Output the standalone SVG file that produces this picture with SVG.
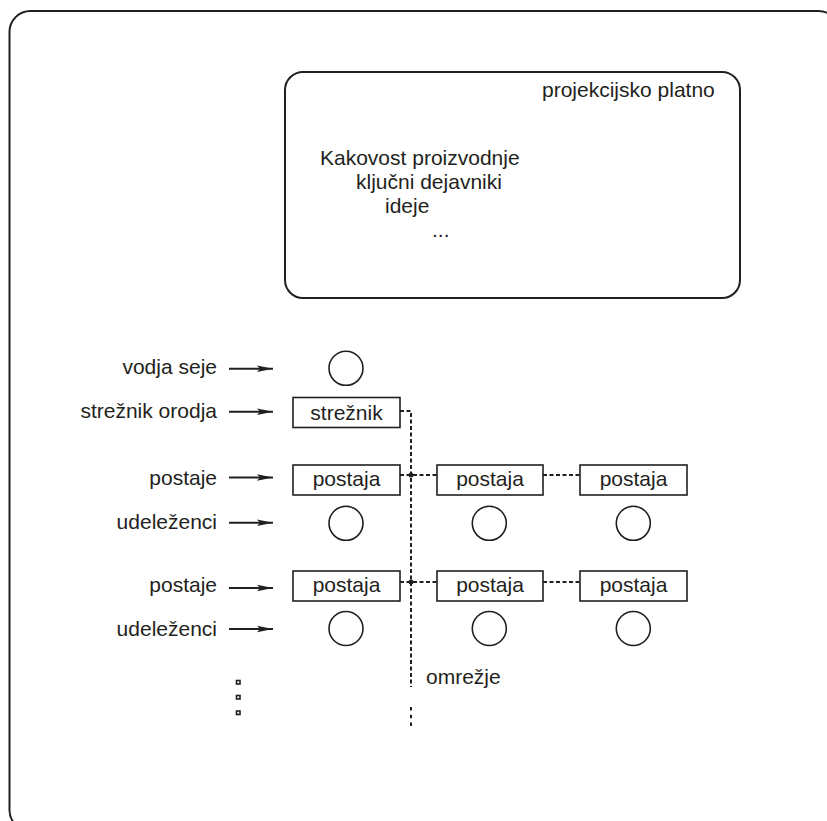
<svg xmlns="http://www.w3.org/2000/svg" width="827" height="821" viewBox="0 0 827 821">
<defs>
<marker id="ah" markerUnits="userSpaceOnUse" markerWidth="18" markerHeight="8" refX="16" refY="4" orient="auto">
<path d="M0,0.8 L16,4 L0,7.2 L3,4 Z" fill="#231f20"/>
</marker>
<style>
text{font-family:"Liberation Sans",Arial,sans-serif;font-size:21px;fill:#231f20}
.lbl{text-anchor:end}
.mid{text-anchor:middle}
.frame{fill:none;stroke:#231f20;stroke-width:2}
.box{fill:#fff;stroke:#231f20;stroke-width:1.6}
.node{fill:#fff;stroke:#231f20;stroke-width:1.6}
.arr{stroke:#231f20;stroke-width:2;fill:none;marker-end:url(#ah)}
.net{stroke:#231f20;stroke-width:2;fill:none;stroke-dasharray:4 2.5}
.dot{fill:#231f20}
.sq{fill:#fff;stroke:#231f20;stroke-width:1.6}
</style>
</defs>
<rect class="frame" x="9.5" y="11" width="830" height="820" rx="21"/>
<g id="platno">
<rect class="frame" x="285" y="72" width="455" height="226" rx="18"/>
<text x="542" y="97">projekcijsko platno</text>
<text x="320" y="165">Kakovost proizvodnje</text>
<text x="356" y="189">ključni dejavniki</text>
<text x="385" y="213">ideje</text>
<text x="432" y="237">...</text>
</g>
<g id="labels">
<text class="lbl" x="217" y="374">vodja seje</text>
<text class="lbl" x="217" y="418">strežnik orodja</text>
<text class="lbl" x="217" y="485">postaje</text>
<text class="lbl" x="217" y="529">udeleženci</text>
<text class="lbl" x="217" y="592">postaje</text>
<text class="lbl" x="217" y="636">udeleženci</text>
<text x="426" y="684">omrežje</text>
</g>
<g id="connectors">
<line class="arr" x1="229" y1="368.7" x2="273" y2="368.7"/>
<line class="arr" x1="229" y1="411.7" x2="273" y2="411.7"/>
<line class="arr" x1="229" y1="477.5" x2="273" y2="477.5"/>
<line class="arr" x1="229" y1="522.7" x2="273" y2="522.7"/>
<line class="arr" x1="229" y1="588" x2="273" y2="588"/>
<line class="arr" x1="229" y1="629" x2="273" y2="629"/>
<path class="net" d="M400,411 H411 V687"/>
<line class="net" x1="400" y1="475" x2="437" y2="475"/>
<line class="net" x1="543" y1="475" x2="580" y2="475"/>
<line class="net" x1="400" y1="582" x2="437" y2="582"/>
<line class="net" x1="543" y1="582" x2="580" y2="582"/>
<line stroke="#231f20" stroke-width="2" stroke-dasharray="3.5 4.2" x1="411" y1="707" x2="411" y2="727"/>
<circle class="dot" cx="411" cy="475" r="2.5"/>
<circle class="dot" cx="411" cy="582" r="2.5"/>
</g>
<g id="vodja"><circle class="node" cx="346" cy="368.3" r="17"/></g>
<g id="streznik"><rect class="box" x="293" y="397.5" width="107" height="30"/><text class="mid" x="346.5" y="420">strežnik</text></g>
<g id="postaja11"><rect class="box" x="293" y="465" width="107" height="30"/><text class="mid" x="346.5" y="486">postaja</text></g>
<g id="postaja12"><rect class="box" x="437" y="465" width="106" height="30"/><text class="mid" x="490" y="486">postaja</text></g>
<g id="postaja13"><rect class="box" x="580" y="465" width="107" height="30"/><text class="mid" x="633.5" y="486">postaja</text></g>
<g id="ud11"><circle class="node" cx="346" cy="523.3" r="17"/></g>
<g id="ud12"><circle class="node" cx="489.3" cy="523.3" r="17"/></g>
<g id="ud13"><circle class="node" cx="633.3" cy="523.3" r="17"/></g>
<g id="postaja21"><rect class="box" x="293" y="571" width="107" height="30"/><text class="mid" x="346.5" y="592">postaja</text></g>
<g id="postaja22"><rect class="box" x="437" y="571" width="106" height="30"/><text class="mid" x="490" y="592">postaja</text></g>
<g id="postaja23"><rect class="box" x="580" y="571" width="107" height="30"/><text class="mid" x="633.5" y="592">postaja</text></g>
<g id="ud21"><circle class="node" cx="346" cy="628.5" r="17"/></g>
<g id="ud22"><circle class="node" cx="489.3" cy="628.5" r="17"/></g>
<g id="ud23"><circle class="node" cx="633.3" cy="628.5" r="17"/></g>
<g id="ellipsis">
<rect class="sq" x="236.5" y="680.5" width="3.5" height="3.5"/>
<rect class="sq" x="236.5" y="695.5" width="3.5" height="3.5"/>
<rect class="sq" x="236.5" y="711" width="3.5" height="3.5"/>
</g>
</svg>
